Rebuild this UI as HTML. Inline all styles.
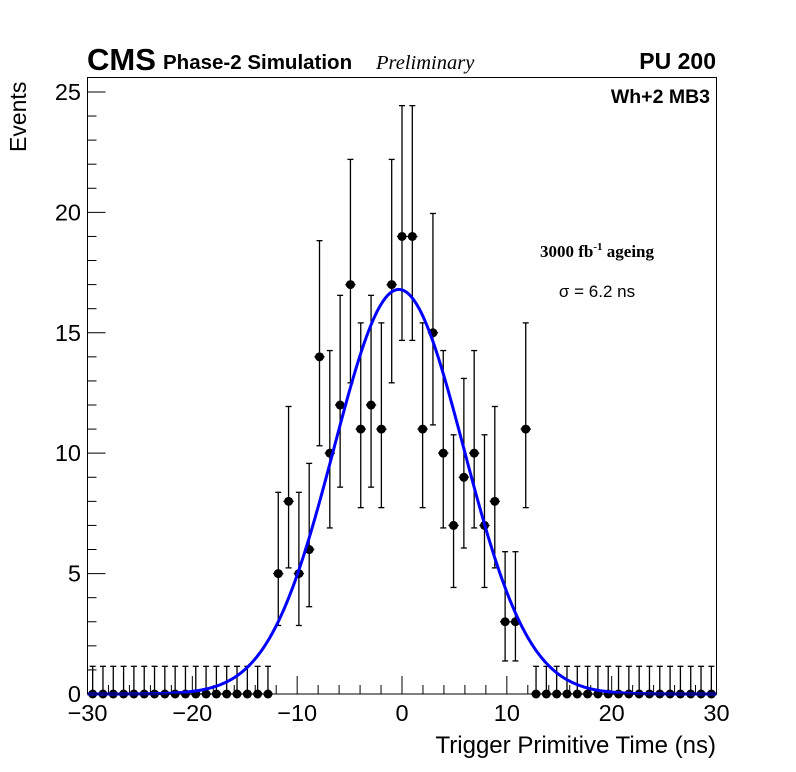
<!DOCTYPE html>
<html><head><meta charset="utf-8"><style>
html,body{margin:0;padding:0;background:#fff;}
svg{display:block;font-family:"Liberation Sans",sans-serif;}
</style></head><body>
<svg id="chart" width="796" height="772" viewBox="0 0 796 772" xmlns="http://www.w3.org/2000/svg">
<rect x="0" y="0" width="796" height="772" fill="#fff"/>
<text x="87" y="70" font-size="31" font-weight="bold">CMS</text>
<text x="163" y="69" font-size="20.5" font-weight="bold">Phase-2 Simulation</text>
<text x="376" y="69" font-size="20.5" font-style="italic" font-family="Liberation Serif,serif">Preliminary</text>
<text x="716" y="69" font-size="23" font-weight="bold" text-anchor="end">PU 200</text>
<text x="710" y="103" font-size="19.5" font-weight="bold" text-anchor="end">Wh+2 MB3</text>
<text x="597" y="257" font-size="17" font-weight="bold" text-anchor="middle" font-family="Liberation Serif,serif">3000 fb<tspan dy="-7" font-size="11">-1</tspan><tspan dy="7"> ageing</tspan></text>
<text x="597" y="297" font-size="17" text-anchor="middle">σ = 6.2 ns</text>
<text x="716" y="753" font-size="24" text-anchor="end">Trigger Primitive Time (ns)</text>
<text transform="translate(26,152) rotate(-90)" font-size="23">Events</text>
<g id="axes"></g>
<g id="marks"></g>
<rect x="87.5" y="77.5" width="629" height="616.5" fill="none" stroke="#000" stroke-width="1"/>
</svg>
<script>
const binCount = [61];
const xRange = [-30, 30];
const yRange = [0, 25.6];
const nonzeroStart = [18];
const counts = [5,8,5,6,14,10,12,17,11,12,11,17,19,19,11,15,10,7,9,10,7,8,3,3,11];
const fitParams = [16.8, -0.3, 6.2];
const xTicks = [-30,-20,-10,0,10,20,30];
const yTicks = [0,5,10,15,20,25];

const NS='http://www.w3.org/2000/svg';
const L=87.5,R=716.5,T=77.5,B=694;
function sx(v){return L+(v-xRange[0])/(xRange[1]-xRange[0])*(R-L);}
function sy(v){return B-(v-yRange[0])/(yRange[1]-yRange[0])*(B-T);}
function mk(tag,attrs,parent){const e=document.createElementNS(NS,tag);for(const k in attrs)e.setAttribute(k,attrs[k]);parent.appendChild(e);return e;}
const axes=document.getElementById('axes'),marks=document.getElementById('marks');

for(let v=-30;v<=30;v+=2){
  const major=v%10===0;
  const t=mk('line',{x1:sx(v),x2:sx(v),y1:B,y2:B-(major?18:9),stroke:'#000','stroke-width':1},axes);
  
  
}
xTicks.forEach(v=>{
  const t=mk('text',{x:sx(v),y:721,'font-size':23.5,'text-anchor':'middle'},axes);
  t.textContent=(v<0?'\u2212'+(-v):''+v);
  
  
});
for(let v=0;v<=25;v+=1){
  const major=v%5===0;
  const t=mk('line',{x1:L,x2:L+(major?18:9),y1:sy(v),y2:sy(v),stroke:'#000','stroke-width':1},axes);
  
  
}
yTicks.forEach(v=>{
  const t=mk('text',{x:81,y:sy(v)+8,'font-size':23.5,'text-anchor':'end'},axes);
  t.textContent=''+v;
  
  
});

function errs(n){
  if(n===0)return [0,1.15];
  const lo=n*Math.pow(1-1/(9*n)-1/(3*Math.sqrt(n)),3);
  const m=n+1;const hi=m*Math.pow(1-1/(9*m)+1/(3*Math.sqrt(m)),3);
  return [lo,hi];
}
const w=(xRange[1]-xRange[0])/binCount[0];
for(let i=0;i<binCount[0];i++){
  const j=i-nonzeroStart[0];
  const n=(j>=0&&j<counts.length)?counts[j]:0;
  const xc=xRange[0]+w*(i+0.5);
  const px=sx(xc);
  const [lo,hi]=errs(n);
  const g=mk('g',{},marks);
  
  
  mk('line',{x1:px,x2:px,y1:sy(lo),y2:sy(hi),stroke:'#000','stroke-width':1.3},g);
  mk('line',{x1:px-3,x2:px+3,y1:sy(hi),y2:sy(hi),stroke:'#000','stroke-width':1.3},g);
  if(n>0)mk('line',{x1:px-3,x2:px+3,y1:sy(lo),y2:sy(lo),stroke:'#000','stroke-width':1.3},g);
  mk('line',{x1:sx(xc-w/2),x2:sx(xc+w/2),y1:sy(n),y2:sy(n),stroke:'#000','stroke-width':1.3},g);
  mk('circle',{cx:px,cy:sy(n),r:4.5,fill:'#000'},g);
}
let d='';
for(let k=0;k<=300;k++){
  const x=xRange[0]+k*(xRange[1]-xRange[0])/300;
  const y=fitParams[0]*Math.exp(-Math.pow(x-fitParams[1],2)/(2*fitParams[2]*fitParams[2]));
  d+=(k?'L':'M')+sx(x).toFixed(2)+','+sy(y).toFixed(2);
}
const fit=mk('path',{d:d,fill:'none',stroke:'#0000ff','stroke-width':3},marks);


</script>
</body></html>
